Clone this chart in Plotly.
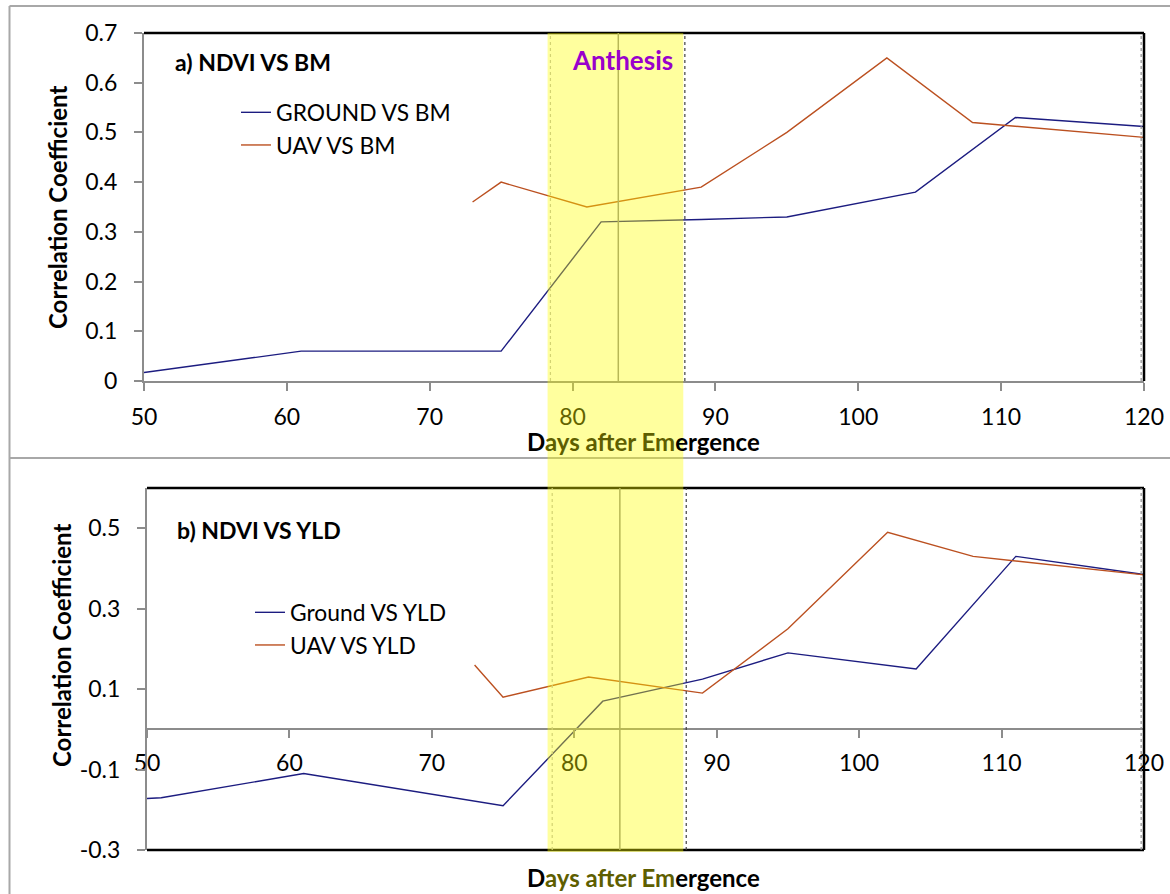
import plotly.graph_objects as go

W, H = 1170, 894

# ---------------- data ----------------
days_ground_bm = [50, 61, 75, 82, 89, 95, 104, 111, 120]
ground_bm = [0.017, 0.06, 0.06, 0.32, 0.325, 0.33, 0.38, 0.53, 0.512]
days_uav_bm = [73, 75, 81, 89, 95, 102, 108, 120]
uav_bm = [0.36, 0.40, 0.35, 0.39, 0.50, 0.65, 0.52, 0.49]

days_ground_yld = [50, 51, 61, 75, 82, 89, 95, 104, 111, 120]
ground_yld = [-0.172, -0.17, -0.11, -0.19, 0.07, 0.125, 0.19, 0.15, 0.43, 0.385]
days_uav_yld = [73, 75, 81, 89, 95, 102, 108, 120]
uav_yld = [0.16, 0.08, 0.13, 0.09, 0.25, 0.49, 0.43, 0.384]

anthesis_start, anthesis_mid, anthesis_end = 78.25, 83.2, 87.75
dotted_days = [78.45, 87.86, 119.8]
dotted_colors = ["#b8b8b8", "#404040", "#909090"]

x_ticks = [50, 60, 70, 80, 90, 100, 110, 120]
y1_ticks = [0, 0.1, 0.2, 0.3, 0.4, 0.5, 0.6, 0.7]
y2_ticks = [-0.3, -0.1, 0.1, 0.3, 0.5]
y2_tick_text = ["-0.3", "-0.1", "0.1", "0.3", "0.5"]

# ---------------- style ----------------
FONT = "Lato"
NAVY = "#1c1c80"
BROWN = "#bb5020"
AX_GRAY = "#8c8c8c"
TICK_SIZE = 23
TITLE_SIZE = 24
LEGEND_SIZE = 22.8


def px_x(p):
    return p / W


def px_y(p):
    return 1 - p / H


x1_dom = [px_x(144), px_x(1144)]
y1_dom = [px_y(381), px_y(33)]
x2_dom = [px_x(147), px_x(1144)]
y2_dom = [px_y(850), px_y(488)]
y2_range = [-0.3, 0.6]
zero_pos = y2_dom[0] + (0 - y2_range[0]) / (y2_range[1] - y2_range[0]) * (y2_dom[1] - y2_dom[0])

fig = go.Figure()
fig.add_trace(go.Scatter(x=days_ground_bm, y=ground_bm, mode="lines", name="GROUND VS BM",
                         line=dict(color=NAVY, width=1.4), xaxis="x", yaxis="y", legend="legend",
                         cliponaxis=False))
fig.add_trace(go.Scatter(x=days_uav_bm, y=uav_bm, mode="lines", name="UAV VS BM",
                         line=dict(color=BROWN, width=1.4), xaxis="x", yaxis="y", legend="legend",
                         cliponaxis=False))
fig.add_trace(go.Scatter(x=days_ground_yld, y=ground_yld, mode="lines", name="Ground VS YLD",
                         line=dict(color=NAVY, width=1.4), xaxis="x2", yaxis="y2", legend="legend2",
                         cliponaxis=False))
fig.add_trace(go.Scatter(x=days_uav_yld, y=uav_yld, mode="lines", name="UAV VS YLD",
                         line=dict(color=BROWN, width=1.4), xaxis="x2", yaxis="y2", legend="legend2",
                         cliponaxis=False))

axis_common = dict(showgrid=False, zeroline=False, showline=True, linecolor=AX_GRAY, linewidth=2,
                   ticks="outside", ticklen=8, tickwidth=2, tickcolor=AX_GRAY, automargin=False,
                   tickfont=dict(family=FONT, size=TICK_SIZE, color="black"))

fig.update_layout(
    width=W, height=H, autosize=False,
    margin=dict(l=0, r=0, t=0, b=0, pad=0, autoexpand=False),
    paper_bgcolor="white", plot_bgcolor="white",
    xaxis=dict(domain=x1_dom, anchor="y", range=[50, 120], tickvals=x_ticks,
               ticklabelstandoff=6, **axis_common),
    yaxis=dict(domain=y1_dom, anchor="x", range=[0, 0.7], tickvals=y1_ticks,
               ticklabelstandoff=12, **axis_common),
    xaxis2=dict(domain=x2_dom, anchor="free", position=zero_pos, range=[50, 120], tickvals=x_ticks,
                ticklabelstandoff=5, **axis_common),
    yaxis2=dict(domain=y2_dom, anchor="x2", range=y2_range, tickvals=y2_ticks, ticktext=y2_tick_text,
                ticklabelstandoff=12, **axis_common),
    legend=dict(x=px_x(236), y=px_y(91), xanchor="left", yanchor="top",
                bgcolor="rgba(0,0,0,0)", font=dict(family=FONT, size=LEGEND_SIZE, color="black"),
                tracegroupgap=0),
    legend2=dict(x=px_x(250), y=px_y(591), xanchor="left", yanchor="top",
                 bgcolor="rgba(0,0,0,0)", font=dict(family=FONT, size=LEGEND_SIZE, color="black"),
                 tracegroupgap=0),
    showlegend=True,
)

shapes = []
# outer chart frames
frame = dict(type="line", xref="paper", yref="paper", line=dict(color="#a8a8a8", width=2), layer="below")
shapes.append(dict(frame, x0=px_x(9.5), x1=1, y0=px_y(6), y1=px_y(6)))
shapes.append(dict(frame, x0=px_x(9.5), x1=px_x(9.5), y0=px_y(6), y1=0))
shapes.append(dict(frame, x0=px_x(9.5), x1=1, y0=px_y(458), y1=px_y(458)))

# plot area black borders
for xr, yr, sides in (("x", "y", ("top", "right")), ("x2", "y2", ("top", "right", "bottom"))):
    b = dict(type="line", xref=f"{xr} domain", yref=f"{yr} domain", line=dict(color="black", width=2.5),
             layer="above")
    if "top" in sides:
        shapes.append(dict(b, x0=0, x1=1, y0=1, y1=1))
    if "right" in sides:
        shapes.append(dict(b, x0=1, x1=1, y0=0, y1=1))
    if "bottom" in sides:
        shapes.append(dict(b, x0=0, x1=1, y0=0, y1=0))

# anthesis centre line and dotted markers in each panel
for xr, yr in (("x", "y domain"), ("x2", "y2 domain")):
    shapes.append(dict(type="line", xref=xr, yref=yr, x0=anthesis_mid, x1=anthesis_mid, y0=0, y1=1,
                       line=dict(color="#8c8c8c", width=1.5), layer="above"))
    for d, c in zip(dotted_days, dotted_colors):
        shapes.append(dict(type="line", xref=xr, yref=yr, x0=d, x1=d, y0=0, y1=1,
                           line=dict(color=c, width=1.2, dash="dot"), layer="above"))

# anthesis band spanning both panels
shapes.append(dict(type="rect", xref="x", yref="paper", x0=anthesis_start, x1=anthesis_end,
                   y0=px_y(852), y1=px_y(33), fillcolor="rgba(255,255,0,0.38)",
                   line=dict(width=0), layer="above"))

fig.update_layout(shapes=shapes)

title_font = dict(family=FONT, size=TITLE_SIZE, color="black")
xtitle = "<b>D<span style='color:#5e5e00'>ays after Em</span>ergence</b>"
for ycen in (441, 877):
    fig.add_annotation(text=xtitle, xref="paper", yref="paper", x=px_x(643), y=px_y(ycen),
                       xanchor="center", yanchor="middle", showarrow=False, font=title_font)
for xcen, ycen in ((58, 208), (61, 646)):
    fig.add_annotation(text="<b>Correlation Coefficient</b>", xref="paper", yref="paper",
                       x=px_x(xcen), y=px_y(ycen), xanchor="center", yanchor="middle",
                       textangle=-90, showarrow=False, font=title_font)

fig.add_annotation(text="<b>a) NDVI VS BM</b>", xref="paper", yref="paper", x=px_x(173), y=px_y(62),
                   xanchor="left", yanchor="middle", showarrow=False,
                   font=dict(family=FONT, size=23, color="black"))
fig.add_annotation(text="<b>b) NDVI VS YLD</b>", xref="paper", yref="paper", x=px_x(175), y=px_y(530),
                   xanchor="left", yanchor="middle", showarrow=False,
                   font=dict(family=FONT, size=23, color="black"))
fig.add_annotation(text="<b>Anthesis</b>", xref="paper", yref="paper", x=px_x(622), y=px_y(60),
                   xanchor="center", yanchor="middle", showarrow=False,
                   font=dict(family=FONT, size=26, color="#9900cc"))

fig.write_html("out.html", config={"responsive": False})
